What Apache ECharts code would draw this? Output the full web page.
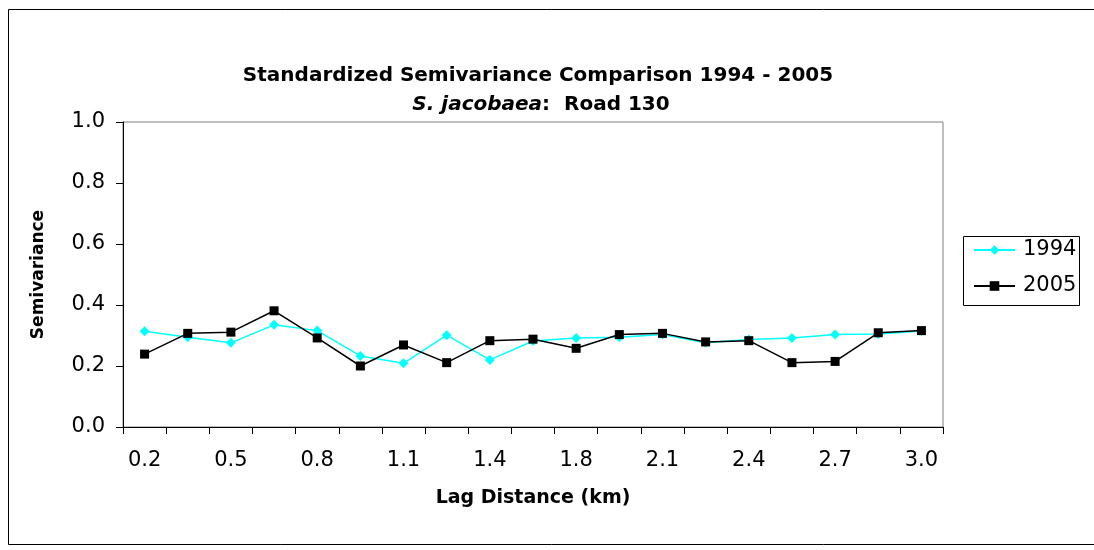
<!DOCTYPE html>
<html>
<head>
<meta charset="utf-8">
<script src="https://cdn.jsdelivr.net/npm/echarts@6/dist/echarts.min.js"></script>
<style>
  html, body { margin: 0; padding: 0; background: #ffffff; }
  #chart { width: 1094px; height: 550px; }
</style>
</head>
<body>
<div id="chart"></div>
<script>
// Lag distances (km) for each semivariogram bin
const lags = [0.16, 0.32, 0.48, 0.64, 0.80, 0.96, 1.12, 1.28, 1.44, 1.60,
              1.76, 1.92, 2.08, 2.24, 2.40, 2.56, 2.72, 2.88, 3.04];
// Standardized semivariance per bin
const sv1994 = [0.314, 0.294, 0.276, 0.335, 0.316, 0.233, 0.209, 0.301, 0.220, 0.282,
                0.292, 0.294, 0.303, 0.276, 0.287, 0.292, 0.303, 0.305, 0.315];
const sv2005 = [0.239, 0.307, 0.311, 0.381, 0.292, 0.200, 0.269, 0.211, 0.283, 0.288,
                0.258, 0.303, 0.307, 0.279, 0.283, 0.211, 0.215, 0.309, 0.316];
const yTicks = [0.0, 0.2, 0.4, 0.6, 0.8, 1.0];

const FONT = '"DejaVu Sans", "Liberation Sans", Arial, sans-serif';
const chart = echarts.init(document.getElementById('chart'), null, { renderer: 'canvas' });

chart.setOption({
  animation: false,
  backgroundColor: '#ffffff',
  textStyle: { fontFamily: FONT, color: '#000' },
  title: [
    {
      text: 'Standardized Semivariance Comparison 1994 - 2005',
      left: 533, top: 61, textAlign: 'center',
      textStyle: { fontFamily: FONT, fontSize: 20, fontWeight: 'bold', color: '#000' }
    },
    {
      text: '{i|S. jacobaea}{b|:  Road 130}',
      left: 536, top: 90, textAlign: 'center',
      textStyle: {
        rich: {
          i: { fontFamily: FONT, fontSize: 20, fontWeight: 'bold', fontStyle: 'italic', color: '#000' },
          b: { fontFamily: FONT, fontSize: 20, fontWeight: 'bold', color: '#000' }
        }
      }
    }
  ],
  graphic: [
    {
      // outer chart frame (right edge runs past the page)
      type: 'rect', z: -1, silent: true,
      shape: { x: 8.5, y: 9.5, width: 1100, height: 535 },
      style: { fill: 'none', stroke: '#000', lineWidth: 1 }
    },
    {
      // legend frame
      type: 'rect', z: 0, silent: true,
      shape: { x: 963.5, y: 236.5, width: 116, height: 69 },
      style: { fill: '#fff', stroke: '#000', lineWidth: 1 }
    }
  ],
  legend: {
    orient: 'vertical',
    left: 973, top: 239, padding: 0,
    itemWidth: 41, itemHeight: 12, itemGap: 14,
    textStyle: { fontFamily: FONT, fontSize: 21, lineHeight: 22, color: '#000', padding: [0, 0, 0, 3] },
    data: ['1994', '2005'],
    z: 5
  },
  grid: {
    left: 123, top: 122, width: 820, height: 305,
    show: true, borderColor: '#808080', borderWidth: 1, backgroundColor: 'transparent'
  },
  xAxis: {
    type: 'category',
    data: lags,
    boundaryGap: true,
    name: 'Lag Distance (km)',
    nameLocation: 'middle',
    nameGap: 62,
    nameTextStyle: { fontFamily: FONT, fontSize: 19, fontWeight: 'bold', color: '#000' },
    axisLine: { lineStyle: { color: '#000', width: 1 } },
    axisTick: { show: true, interval: 0, length: 7, lineStyle: { color: '#000' } },
    axisLabel: {
      interval: 1, margin: 23,
      fontFamily: FONT, fontSize: 21, color: '#000',
      formatter: v => Number(v).toFixed(1)
    },
    splitLine: { show: false }
  },
  yAxis: {
    type: 'value',
    min: yTicks[0], max: yTicks[yTicks.length - 1], interval: 0.2,
    name: 'Semivariance',
    nameLocation: 'middle',
    nameGap: 76,
    nameRotate: 90,
    nameTextStyle: {
      fontFamily: FONT, fontSize: 17, fontWeight: 'bold', color: '#000',
      width: 110, overflow: 'truncate', ellipsis: ''
    },
    axisLine: { show: true, lineStyle: { color: '#000', width: 1 } },
    axisTick: { show: true, length: 7, lineStyle: { color: '#000' } },
    axisLabel: {
      margin: 18, fontFamily: FONT, fontSize: 21, color: '#000',
      formatter: v => v.toFixed(1)
    },
    splitLine: { show: false }
  },
  series: [
    {
      name: '1994', type: 'line', data: sv1994,
      symbol: 'diamond', symbolSize: 10,
      lineStyle: { color: '#00FFFF', width: 1.5 },
      itemStyle: { color: '#00FFFF', borderWidth: 0 },
      z: 2
    },
    {
      name: '2005', type: 'line', data: sv2005,
      symbol: 'rect', symbolSize: 9,
      lineStyle: { color: '#000000', width: 1.5 },
      itemStyle: { color: '#000000', borderWidth: 0 },
      z: 3
    }
  ]
});
</script>
</body>
</html>
